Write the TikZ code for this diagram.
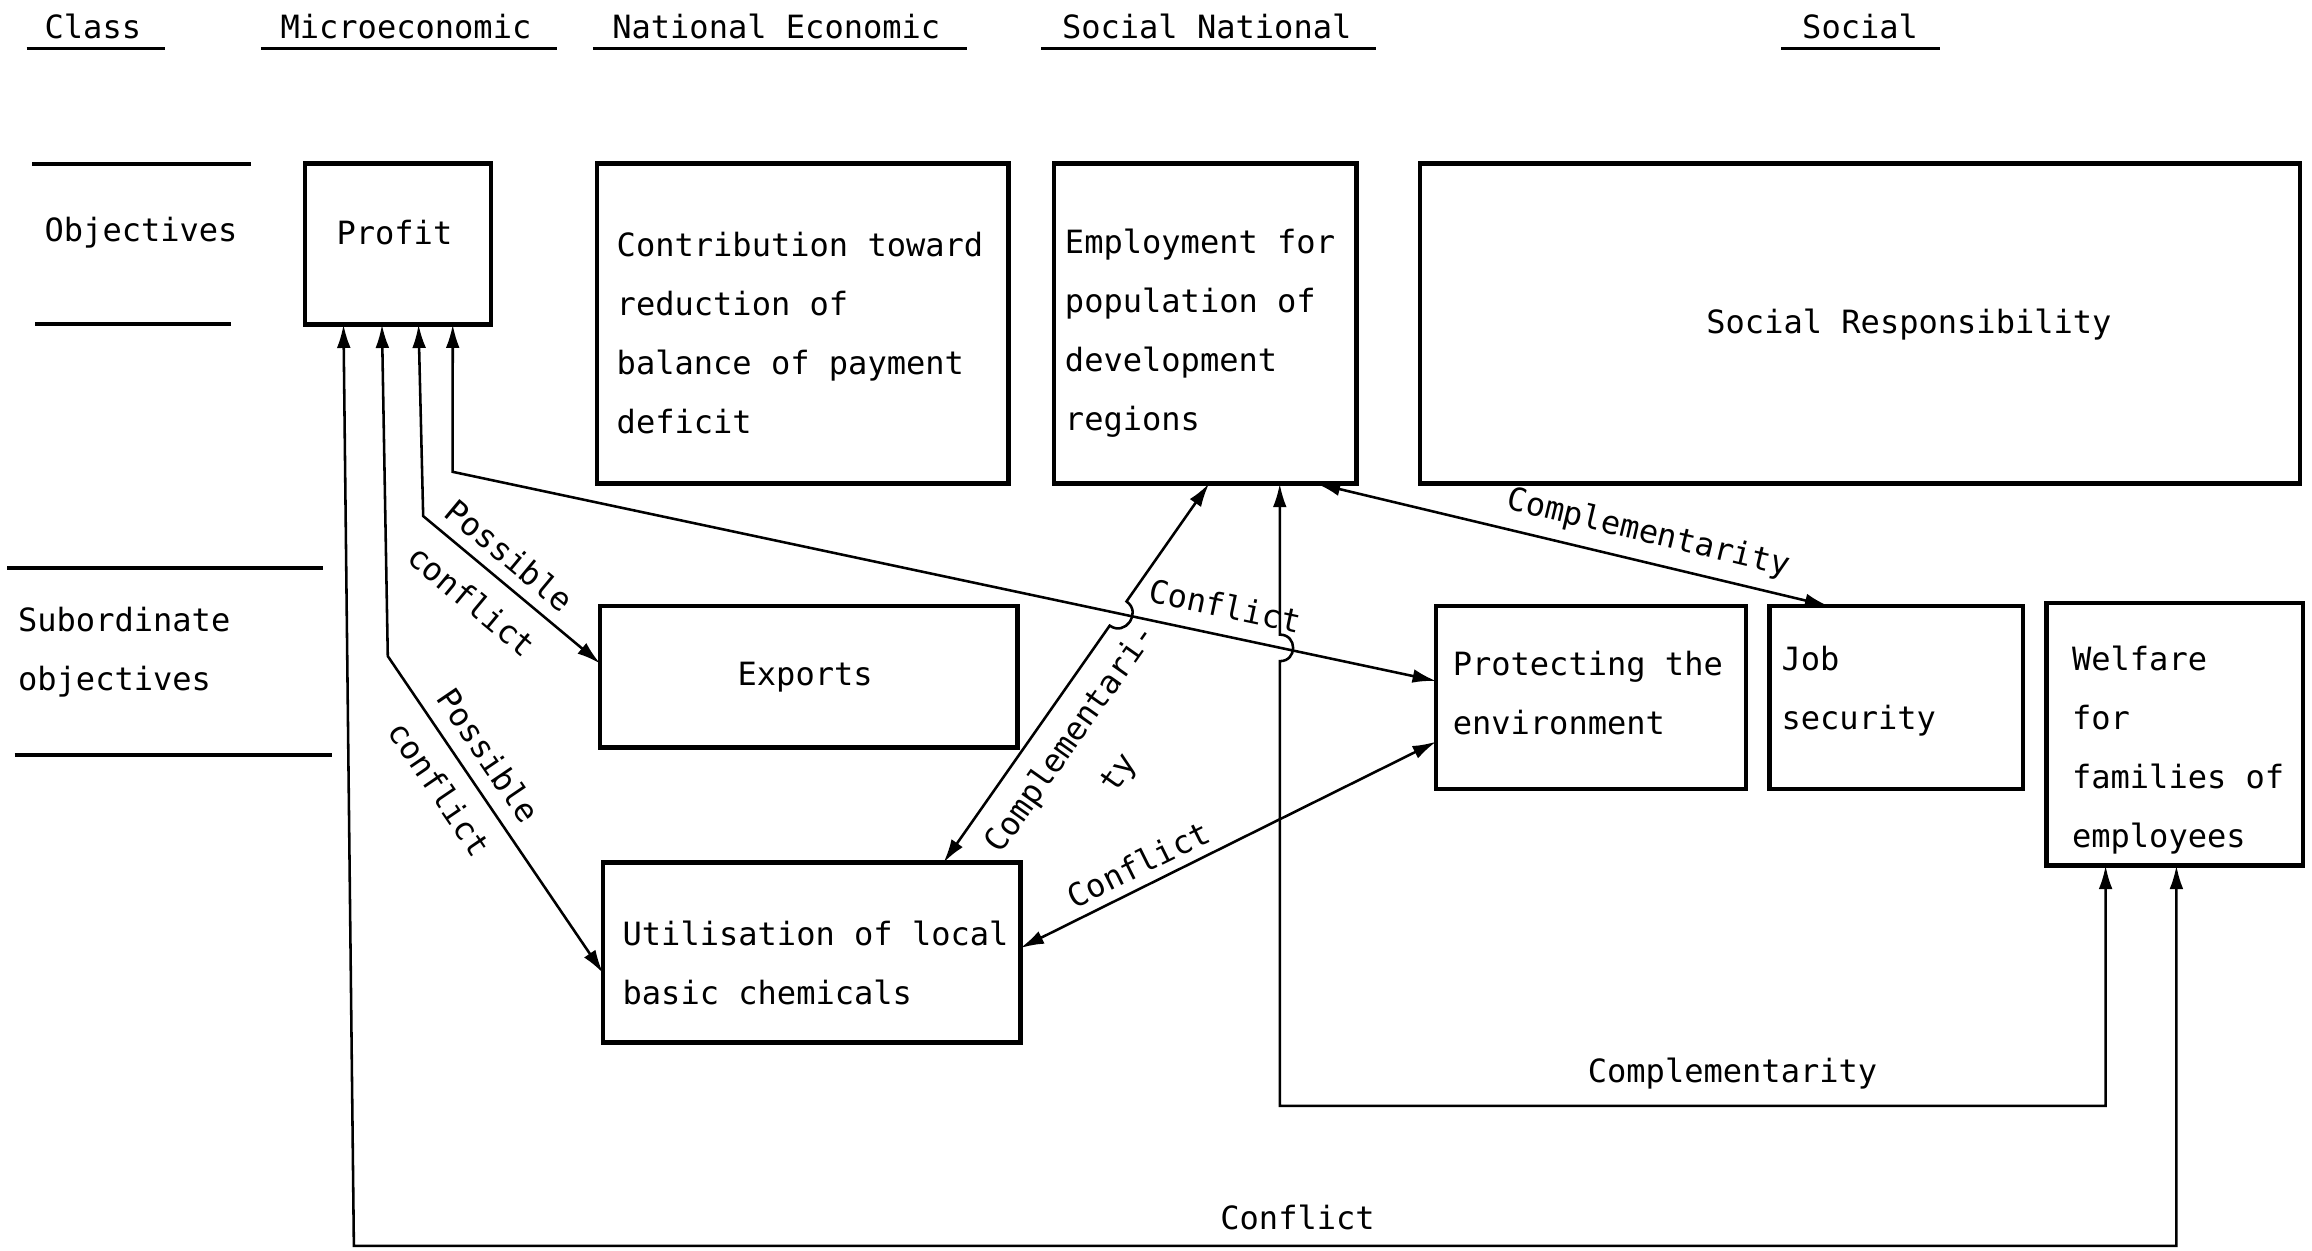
\documentclass[tikz,border=0pt]{standalone}
\usepackage{fontspec}
\newfontfamily\tw{DejaVu Sans Mono}
\usetikzlibrary{arrows.meta,fit,calc}
\begin{document}
\begin{tikzpicture}[x=0.75pt,y=-0.75pt,
  box/.style={draw, line width=2.2pt, inner sep=0pt, outer sep=0pt},
  txt/.style={font=\tw\fontsize{16.3pt}{30pt}\selectfont, inner sep=0pt, align=left, anchor=west},
  lbl/.style={font=\tw\fontsize{16.3pt}{30pt}\selectfont, inner sep=0pt, align=center},
  conn/.style={line width=1.3pt, {Latex[length=12pt,width=7pt]}-{Latex[length=12pt,width=7pt]}},
  rulel/.style={line width=1.6pt},
  sepl/.style={line width=2pt}
]
\useasboundingbox (0,0) rectangle (1568,848);

% headers
\node[txt] (hclass) at (30,18) {Class};
\node[txt] (hmicro) at (190,18) {Microeconomic};
\node[txt] (hnatec) at (415,18) {National Economic};
\node[txt] (hsocnat) at (720,18) {Social National};
\node[txt] (hsoc) at (1222,18) {Social};
\draw[rulel] (18,33) -- (112,33);
\draw[rulel] (177,33) -- (378,33);
\draw[rulel] (402,33) -- (656,33);
\draw[rulel] (706,33) -- (933,33);
\draw[rulel] (1208,33) -- (1316,33);

% left column
\node[txt] (lobj) at (30,158) {Objectives};
\node[txt] (lsub) at (12,442) {Subordinate\\objectives};
\draw[sepl] (22,111) -- (170,111);
\draw[sepl] (24,220) -- (157,220);
\draw[sepl] (5,385) -- (219,385);
\draw[sepl] (10,512) -- (225,512);

% boxes
\node[box, fit={(207,111)(333,220)}] (profit) {};
\node[box, fit={(405,111)(684,328)}] (contrib) {};
\node[box, fit={(715,111)(920,328)}] (employ) {};
\node[box, fit={(963,111)(1560,328)}] (social) {};
\node[box, fit={(407,411)(690,507)}] (exports) {};
\node[box, fit={(974,411)(1184,535)}] (protect) {};
\node[box, fit={(1200,411)(1372,535)}] (job) {};
\node[box, fit={(1388,409)(1562,587)}] (welfare) {};
\node[box, fit={(409,585)(692,707)}] (util) {};

% box texts
\node[txt] (tprofit) at (228,158) {Profit};
\node[txt] (tcontrib) at (418,226) {Contribution toward\\reduction of\\balance of payment\\deficit};
\node[txt] (temploy) at (722,226) {Employment for\\population of\\development\\regions};
\node[txt] (tsocial) at (1157,220) {Social Responsibility};
\node[txt] (texports) at (500,459) {Exports};
\node[txt] (tprotect) at (985,470) {Protecting the\\environment};
\node[txt] (tjob) at (1208,469) {Job\\security};
\node[txt] (twelfare) at (1405,509) {Welfare\\for\\families of\\employees};
\node[txt] (tutil) at (422,653) {Utilisation of local\\basic chemicals};

% connector end points on boxes
\coordinate (pA) at ($(profit.south west)!0.206!(profit.south east)$);
\coordinate (pB) at ($(profit.south west)!0.413!(profit.south east)$);
\coordinate (pC) at ($(profit.south west)!0.61!(profit.south east)$);
\coordinate (pD) at ($(profit.south west)!0.794!(profit.south east)$);
\coordinate (wA) at ($(welfare.south west)!0.506!(welfare.south east)$);
\coordinate (wG) at ($(welfare.south west)!0.23!(welfare.south east)$);
\coordinate (uB) at ($(util.north west)!0.615!(util.south west)$);
\coordinate (uE) at ($(util.north west)!0.816!(util.north east)$);
\coordinate (uF) at ($(util.north east)!0.475!(util.south east)$);
\coordinate (xC) at ($(exports.north west)!0.406!(exports.south west)$);
\coordinate (vD) at ($(protect.north west)!0.41!(protect.south west)$);
\coordinate (vF) at ($(protect.north west)!0.742!(protect.south west)$);
\coordinate (eE) at ($(employ.south west)!0.512!(employ.south east)$);
\coordinate (eG) at ($(employ.south west)!0.746!(employ.south east)$);
\coordinate (eH) at ($(employ.south west)!0.868!(employ.south east)$);
\coordinate (jH) at ($(job.north west)!0.233!(job.north east)$);

% bend points
\coordinate (kA) at (240,845);
\coordinate (kB) at (263,445);
\coordinate (kC) at (287,350);
\coordinate (kD) at (307,320);
\coordinate (kG) at (868,750);
% hop points
\coordinate (hE1) at (764.0,407.9);
\coordinate (hE2) at (752.6,424.3);
\coordinate (cE1) at (774.6,415.4);
\coordinate (cE2) at (763.2,431.8);
\coordinate (hG1) at (868,430.4);
\coordinate (hG2) at (868,448.4);
\coordinate (cG1) at (880,430.4);
\coordinate (cG2) at (880,448.4);

% connectors
\draw[conn] (pA) -- (kA) -| (wA);
\draw[conn] (pB) -- (kB) -- (uB);
\draw[conn] (pC) -- (kC) -- (xC);
\draw[conn] (pD) -- (kD) -- (vD);
\draw[conn] (eE) -- (hE1) .. controls (cE1) and (cE2) .. (hE2) -- (uE);
\draw[conn] (uF) -- (vF);
\draw[conn] (eG) -- (hG1) .. controls (cG1) and (cG2) .. (hG2) -- (kG) -| (wG);
\draw[conn] (eH) -- (jH);

% connector labels
\node[lbl] (lA) at (880,826) {Conflict};
\node[lbl, rotate=-55.8] (lB) at (315,523.5) {Possible\\conflict};
\node[lbl, rotate=-39.8] (lC) at (333,392) {Possible\\conflict};
\node[lbl, rotate=-12] (lD) at (831,411) {Conflict};
\node[lbl, rotate=54.8] (lE) at (743,513) {Complementari-\\ty};
\node[lbl, rotate=26.4] (lF) at (772,586) {Conflict};
\node[lbl] (lG) at (1175,728) {Complementarity};
\node[lbl, rotate=-13.5] (lH) at (1118,362) {Complementarity};
\end{tikzpicture}
\end{document}
